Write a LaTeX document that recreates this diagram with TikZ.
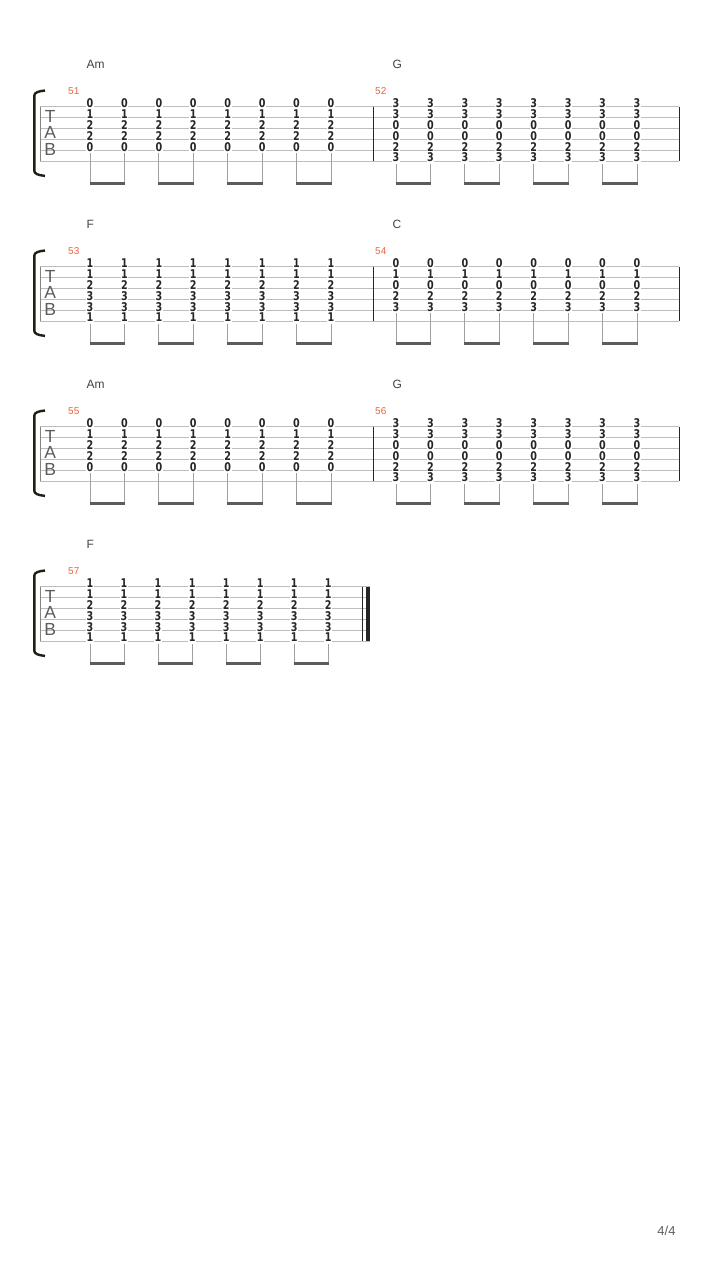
\documentclass[tikz,border=0pt]{standalone}
\usepackage{fontspec}
\setmainfont{Liberation Sans}
\newfontfamily\tabfontfam{DejaVu Sans}[FakeStretch=0.8]
\definecolor{lineg}{HTML}{BDBDBD}
\definecolor{numc}{HTML}{262626}
\definecolor{mnumc}{HTML}{F0643C}
\definecolor{chordc}{HTML}{444444}
\definecolor{stemc}{HTML}{A0A0A0}
\definecolor{beamc}{HTML}{5C5C5C}
\definecolor{brackc}{HTML}{1F1F14}

\def\chordAm{1/0,2/1,3/2,4/2,5/0}\def\lowAm{5}
\def\chordG{1/3,2/3,3/0,4/0,5/2,6/3}\def\lowG{6}
\def\chordF{1/1,2/1,3/2,4/3,5/3,6/1}\def\lowF{6}
\def\chordC{1/0,2/1,3/0,4/2,5/3}\def\lowC{5}

\tikzset{
  staffline/.style={draw=lineg, line width=0.8pt},
  barl/.style={draw=numc, line width=1pt},
  startbar/.style={draw=lineg!70!black, line width=0.8pt},
  tabnum/.style={font=\tabfontfam\bfseries\fontsize{12}{12}\selectfont, text=numc, fill=white, inner xsep=0.5pt, inner ysep=0pt, anchor=base},
  chordname/.style={font=\fontsize{12}{12}\selectfont, text=chordc, inner sep=0pt, anchor=west},
  mnum/.style={font=\fontsize{10}{10}\selectfont, text=mnumc, inner sep=0pt, anchor=west},
  tabclef/.style={font=\fontsize{17.5}{17.5}\selectfont, text=numc!75, inner sep=0pt},
  stem/.style={draw=stemc, line width=1pt},
  beam/.style={draw=beamc, line width=2.6pt},
  brack/.style={draw=brackc, line width=2.4pt},
  pagenum/.style={font=\fontsize{13}{13}\selectfont, text=chordc!85, inner sep=0pt},
}

\newcommand\tabstaff[2]{%
  \pgfmathsetmacro\by{106.7+160*#1}
  \foreach \s in {0,...,5} {\draw[staffline] (40,\by+\s*10.86) -- (#2,\by+\s*10.86);}
  \draw[startbar] (40,\by) -- (40,\by+54.3);
  \draw[brack] (45,\by-16.2) .. controls (38,\by-15.5) and (34.3,\by-14) .. (34.3,\by-11) -- (34.3,\by+64) .. controls (34.3,\by+67) and (38,\by+68.5) .. (45,\by+69.2);
  \node[tabclef] (T#1) at (50.3,\by+10) {T};
  \node[tabclef] (A#1) at (50.3,\by+25.8) {A};
  \node[tabclef] (B#1) at (50.3,\by+42.3) {B};
}

\newcommand\tabmeasure[6]{%
  \pgfmathsetmacro\by{106.7+160*#1}
  \expandafter\let\expandafter\curlist\csname chord#3\endcsname
  \expandafter\let\expandafter\curlow\csname low#3\endcsname
  \node[chordname] (ch#2) at (#4-3.5, \by-42.7) {#3};
  \node[mnum] (mn#2) at (#6, \by-16) {#2};
  \foreach \i in {0,...,7} {
    \pgfmathsetmacro\xx{#4+\i*#5}
    \foreach \s/\f in \curlist {
      \node[tabnum] (n#2-\i-\s) at (\xx, \by+\s*10.86-10.86+0.9) {\f};
    }
    \coordinate (st#2-\i) at (\xx, \by+\curlow*10.86-10.86+3);
    \coordinate (sb#2-\i) at (\xx, \by+77.8);
    \draw[stem] (st#2-\i) -- (sb#2-\i);
  }
  \foreach \i/\j in {0/1,2/3,4/5,6/7} {
    \draw[beam] ([xshift=-0.5pt,yshift=1.3pt]sb#2-\i) -- ([xshift=0.5pt,yshift=1.3pt]sb#2-\j);
  }
}

\begin{document}
\begin{tikzpicture}[x=1pt,y=-1pt]
\useasboundingbox[fill=white] (0,0) rectangle (720,1280);

% systems 1-3
\foreach \k/\ma/\ca/\mb/\cb in {0/51/Am/52/G, 1/53/F/54/C, 2/55/Am/56/G} {
  \tabstaff{\k}{679}
  \pgfmathsetmacro\byy{106.7+160*\k}
  \draw[barl] (373,\byy) -- (373,\byy+54.3);
  \draw[barl] (679,\byy) -- (679,\byy+54.3);
  \tabmeasure{\k}{\ma}{\ca}{90}{34.43}{68}
  \tabmeasure{\k}{\mb}{\cb}{396}{34.43}{375}
}

% system 4
\tabstaff{3}{370}
\draw[barl] (362.3,586.7) -- (362.3,641);
\draw[numc, line width=4pt] (368,586.7) -- (368,641);
\tabmeasure{3}{57}{F}{90}{34.04}{68}

\node[pagenum] (pg) at (666.5,1231) {4/4};
\end{tikzpicture}
\end{document}
